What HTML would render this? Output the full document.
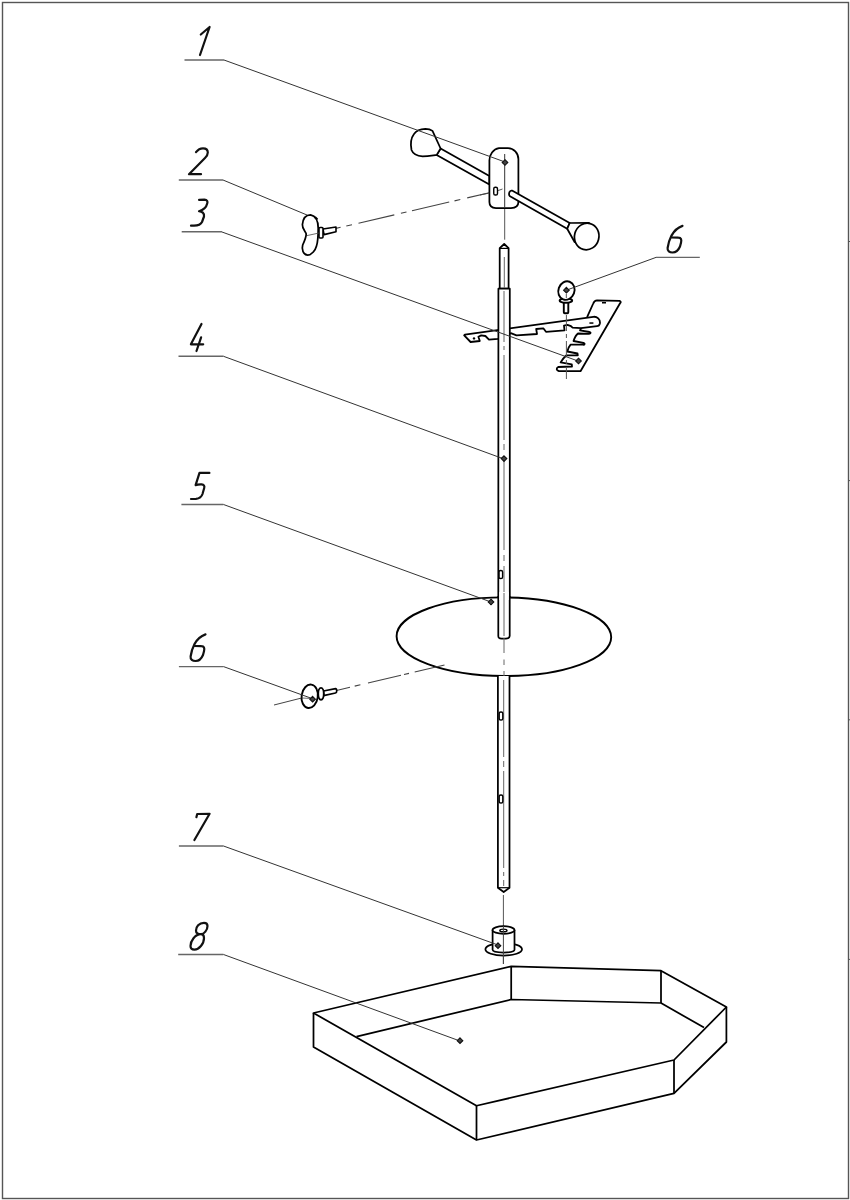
<!DOCTYPE html>
<html><head><meta charset="utf-8">
<style>
html,body{margin:0;padding:0;background:#fff;}
body{width:850px;height:1200px;overflow:hidden;font-family:"Liberation Sans",sans-serif;}
svg{display:block;}
</style></head>
<body>
<svg width="850" height="1200" viewBox="0 0 850 1200">
<rect x="0" y="0" width="850" height="1200" fill="#fff"/>
<!-- frame -->
<rect x="2.5" y="2.5" width="846" height="1196" fill="none" stroke="#555" stroke-width="1.4"/>
<path d="M848.5,241.5 L850,241.5 M848.5,480.6 L850,480.6 M848.5,719.8 L850,719.8 M848.5,959.4 L850,959.4" stroke="#555" stroke-width="1"/>

<!-- digits -->
<g fill="none" stroke="#111" stroke-width="2.2" stroke-linecap="round" stroke-linejoin="round">
  <path d="M200.8,34.5 L209.6,27 L200,55"/>
  <path d="M196,152.2 C198,149.5 200.5,148.3 203,148.3 C206,148.3 207.8,150 207.8,152.5 C207.8,154.5 206.5,156.5 205,158 L189,174.2 L201,174.2"/>
  <path d="M199.1,199.9 L204.5,199.6 C207,199.6 208,201.5 207.2,203.5 C206.5,206.5 203.5,210 199,211.2 C202,211.5 204.5,213 204,216.5 L202,222 C200.5,225 198,225.6 194,225.7 L191,225.7"/>
  <path d="M201.5,323.9 L190.9,344.3 L203.2,344.3 M201.1,337.3 L196.5,351"/>
  <path d="M209.4,472.9 L199.5,472.9 L195.6,485.1 C197,484.6 199,484.3 201.6,484.4 C204,484.6 204.8,486 204.2,488 L202.5,494 C201.5,497 199.5,498.5 196,498.8 L191,499"/>
  <path d="M205.5,634.4 C201,636 197,639.5 194.5,644.1 C192.5,648 191.2,652.5 190.6,656.5 C190.2,659.5 192.5,661 195.6,661 C199,661 201.5,658.5 203,655 L204,651.2 C204.8,648 204,646.2 201.5,646.2 L194.5,646"/>
  <path d="M196.4,817.2 L197.2,814 L209.6,813.8 L194.4,840"/>
  <path d="M204,922.8 C199,922.8 196,927 196,930.5 C196,933.5 199,934.2 201,934.2 C204,934.2 207.5,930 207.5,926 C207.5,923.5 206,922.8 204,922.8 Z M201,934.2 C195,934.2 190.5,941 190.5,946 C190.5,949 192.5,949.6 194.5,949.6 C199,949.6 204,944 204,938 C204,935 203,934.2 201,934.2 Z"/>
  <path transform="translate(477,-408.5)" d="M205.5,634.4 C201,636 197,639.5 194.5,644.1 C192.5,648 191.2,652.5 190.6,656.5 C190.2,659.5 192.5,661 195.6,661 C199,661 201.5,658.5 203,655 L204,651.2 C204.8,648 204,646.2 201.5,646.2 L194.5,646"/>
</g>

<!-- shelf lines -->
<g fill="none" stroke="#666" stroke-width="1.4">
  <path d="M184.5,60 L224,60"/>
  <path d="M178.8,180 L223,180"/>
  <path d="M181.7,231.7 L222,231.7"/>
  <path d="M178.5,356.3 L223.5,356.3"/>
  <path d="M181.4,504.5 L223.5,504.5"/>
  <path d="M178.9,666.6 L223.5,666.6"/>
  <path d="M178.9,846 L223.5,846"/>
  <path d="M178.2,954.5 L223.5,954.5"/>
  <path d="M656,257.4 L699.8,257.4"/>
</g>

<!-- axis / dashed lines (behind parts) -->
<g fill="none" stroke="#555" stroke-width="1">
  <path d="M504.7,154 L504.7,239.7"/>
  <path d="M503.4,895 L503.4,964"/>
  
</g>
<path d="M335.0,228.63 L340.6,227.33 M346.3,226.00 L352.0,224.68 M358.5,223.17 L394.3,214.84 M400.9,213.30 L406.5,212.00 M412.0,210.72 L449.2,202.07 M454.5,200.84 L460.3,199.49 M467.2,197.88 L489.4,192.72" stroke="#444" stroke-width="1.1" fill="none"/>
<path d="M274,705 L301.6,698" stroke="#444" stroke-width="1" fill="none"/>

<!-- PART 1: arm assembly -->
<g fill="#fff" stroke="#000" stroke-width="1.75" stroke-linejoin="round">
  <!-- left rod -->
  <path d="M440.6,148.5 L489.4,176 L489.4,184.4 L436.7,154.9 Z"/>
  <!-- left knob -->
  <path d="M425.4,128.8 C420,129 416,131 414,134 C411,138 410.5,145 411.5,150 C413,154 416,156 422.6,156.3 C428,156.3 432,155.5 436.7,154.9 L440.6,148.5 L432.5,130.9 C430,129 428,128.8 425.4,128.8 Z"/>
  <!-- block -->
  <path d="M489.4,161 A11,12.5 0 0 1 499,148.1 L508,148.1 A10.5,11 0 0 1 518.4,159 L518.4,202 C518.4,206 516,208 511,208 L496,208 C491.5,208 489.4,206 489.4,202 Z"/>
  <!-- right rod -->
  <path d="M512,190.6 L569.7,223 L567.2,228.8 L510,196.3 C508,194.5 509.5,190 512,190.6 Z"/>
  <!-- right knob cone -->
  <path d="M569.7,223 L589,222.8 L574.6,242 L567.2,228.8 Z"/>
  <ellipse cx="586.7" cy="236.5" rx="12.2" ry="13.4" transform="rotate(15 586.7 236.5)"/>
</g>
<path d="M504.7,154 L504.7,208" stroke="#333" stroke-width="1"/>
<rect x="493.75" y="187.2" width="3.75" height="7.8" rx="1.6" fill="none" stroke="#000" stroke-width="1.4"/>
<path d="M498,190.6 L502.5,189" stroke="#444" stroke-width="0.9" fill="none"/>
<path d="M480,195 L489.4,193" stroke="#444" stroke-width="0.9" fill="none"/>

<!-- PART 2: wing nut -->
<g fill="#fff" stroke="#000" stroke-width="1.75" stroke-linejoin="round">
  <path d="M310.5,214.8 C306,214.8 303,218 302.4,224.7 C302,229 306.2,232 306.2,234 C306.2,237 305,240 302.7,245 C301.5,249 303,255 307.6,255 C312,255 315.4,250 316.5,246 C318.2,241 318.2,234 318.2,228 C318.2,222 316,216 310.5,214.8 Z"/>
  <path d="M323,229 L336,227 L336,231.8 L324,234.6 Z" stroke-width="1.6"/>
  <rect x="319" y="227.5" width="4" height="10.5" rx="1" stroke-width="1.6"/>
</g>
<path d="M307,235.6 L319,233" stroke="#444" stroke-width="0.8" fill="none"/>
<path d="M315,217 L317.5,219.5" stroke="#000" stroke-width="1.8"/>

<!-- PART 3 bracket -->
<g fill="#fff" stroke="#000" stroke-width="1.8" stroke-linejoin="round">
  <!-- diagonal arm -->
  <path d="M597,300.4 L619.6,300.8 C621,301.2 621,302.5 620.2,303 L580.5,371.2 L558.8,371 C556.5,370.6 555.8,368.4 558.2,367 L572,366.5 L571.8,364.4 L560.6,362.4 C562,360 564,357.5 566.5,355.3 L577.8,355.3 L577.5,353.5 L567.3,351.5 C568,348.5 569,346.5 570.6,344.7 L583,344.7 C584.5,345 585.5,343.5 583.5,342.8 L573.5,341 C574.5,338 576,335 578,333.5 L588,333.8 C590.5,334 591.5,332.5 589.5,332 L580,330.3 L587.2,316.8 L593,304 C594,301.5 595,300.4 597,300.4 Z"/>
  <!-- horizontal arm -->
  <path d="M464.9,334.6 L593.3,316.8 C597,316.3 600.5,319.5 599.9,323.4 C599.5,325.5 598.5,326.2 597,326.2 L581,328.1 L572.6,327.6 L571,326.2 L567.4,324.8 L564,325.6 L564.5,330.4 L546,331.8 L543.3,328.3 L536.2,329 L537,334 L516.5,335.4 L510.8,333.2 L498,338.9 L489,339.6 L485.4,336 L481.2,335.4 L478.4,336.8 L479.8,341 L470.6,342 L464.2,335.4 Z"/>
</g>
<circle cx="474" cy="338.4" r="1.2" fill="#000"/>
<path d="M566.4,315 L566.4,379" stroke="#555" stroke-width="1" stroke-dasharray="16,3,4,3" fill="none"/>
<rect x="602" y="302" width="4" height="1.5" fill="#000"/>
<rect x="589.4" y="322.3" width="4" height="1.5" fill="#000"/>

<!-- PART 4 rod (upper) -->
<g fill="#fff" stroke="#000" stroke-width="1.75" stroke-linejoin="round">
  <path d="M499.7,288.7 L499.7,248.2 L504.2,244 L508.6,248.2 L508.6,288.7 Z"/>
  <path d="M498.4,288.7 L509.8,288.7 L509.8,636 C509.7,638 508,638.5 506,638.5 L501.5,638.5 C499,638.5 498.3,638 498.3,636 Z"/>
</g>
<path d="M499.7,248.4 L508.6,248.4" stroke="#000" stroke-width="1.2"/>
<path d="M504.3,257 L504.3,288 M504,291 L504,342 M504,346 L504,350 M504,355 L504,440 M504,444 L504,450 M504,456 L504,550 M504,555 L504,561 M504,566 L504,636" stroke="#666" stroke-width="1" fill="none"/>

<!-- PART 6 eye bolt -->
<g fill="#fff" stroke="#000" stroke-width="1.9">
  <rect x="563.8" y="301" width="4.5" height="12.2" rx="1"/>
  <ellipse cx="565.9" cy="300.6" rx="6.3" ry="2.2"/>
  <ellipse cx="566.4" cy="290.6" rx="8" ry="9.4" transform="rotate(20 566.4 290.6)"/>
</g>
<path d="M566.3,294 L566.3,298" stroke="#555" stroke-width="1"/>

<!-- PART 5 disc -->
<ellipse cx="503.9" cy="636.7" rx="107.3" ry="39.3" fill="#fff" stroke="#000" stroke-width="1.9" transform="rotate(0.3 503.9 636.7)"/>
<g fill="#fff" stroke="#000" stroke-width="1.75">
  <path d="M498.3,596 L498.3,636 C498.3,638 499,638.5 501.5,638.5 L506,638.5 C508.5,638.5 509.7,638 509.7,636 L509.7,596"/>
</g>
<rect x="499.3" y="592" width="9.4" height="8" fill="#fff" stroke="none"/>
<path d="M504,593 L504,636" stroke="#666" stroke-width="1"/>
<rect x="499" y="570.5" width="3.6" height="8" rx="1.6" fill="none" stroke="#000" stroke-width="1.4"/>
<path d="M504,638 L504,653 M504,659.5 L504,665 M504,671 L504,676" stroke="#666" stroke-width="1" fill="none"/>

<path d="M336.5,690.42 L350.0,687.24 M354.7,686.14 L360.4,684.79 M368.0,683.01 L401.0,675.24 M404.0,674.53 L409.0,673.36 M414.7,672.02 L444.5,665.01" stroke="#444" stroke-width="1.1" fill="none"/>
<!-- lower rod -->
<g fill="#fff" stroke="#000" stroke-width="1.75" stroke-linejoin="round">
  <path d="M497.9,676 L497.9,887.7 L503.7,892 L509.5,887.7 L509.5,676"/>
</g>
<path d="M503.7,680 L503.7,757 M503.7,761 L503.7,767 M503.7,771 L503.7,868 M503.7,872 L503.7,876 M503.7,880 L503.7,886" stroke="#666" stroke-width="1" fill="none"/>
<path d="M497.9,887.7 L509.5,887.7" stroke="#000" stroke-width="1.2"/>
<rect x="499.2" y="712" width="3.6" height="8" rx="1.6" fill="none" stroke="#000" stroke-width="1.4"/>
<rect x="499.2" y="795" width="3.6" height="8" rx="1.6" fill="none" stroke="#000" stroke-width="1.4"/>

<!-- PART 6 lower knob -->
<g fill="#fff" stroke="#000" stroke-width="1.9">
  <path d="M323.5,691 L335.5,688.6 C337,688.5 337.2,692.8 335.5,693 L323.5,695.6 Z" stroke-width="1.7"/>
  <ellipse cx="321" cy="693.8" rx="2.8" ry="5.9"/>
  <ellipse cx="309.7" cy="696.3" rx="8.1" ry="11.8" transform="rotate(8 309.7 696.3)"/>
</g>
<path d="M301.6,698 L312,698.5" stroke="#444" stroke-width="0.8"/>

<!-- PART 7 bushing -->
<g fill="#fff" stroke="#000" stroke-width="1.75">
  <ellipse cx="503.7" cy="949.3" rx="18.3" ry="6.3"/>
  <path d="M492.6,930 L492.6,949.8 C492.6,952 498,952.5 503.5,952.5 C509,952.5 514.5,952 514.5,949.8 L514.5,930"/>
  <ellipse cx="503.5" cy="930" rx="11" ry="3.8"/>
  <ellipse cx="503.4" cy="930.4" rx="3.6" ry="1.3" stroke-width="1.4"/>
</g>
<path d="M503.4,926 L503.4,964" stroke="#444" stroke-width="1"/>

<!-- PART 8 base tray -->
<g fill="none" stroke="#000" stroke-width="1.75" stroke-linejoin="round">
  <path d="M313.5,1013 L511.2,966.4 L661,970.7 L726.4,1007 L674,1060 L476.5,1105.75 Z"/>
  <path d="M313.5,1013 L313.5,1047 L476.5,1140 L674,1093.3 L726.4,1042 L726.4,1007"/>
  <path d="M476.5,1105.75 L476.5,1140 M674,1060 L674,1093"/>
  <path d="M356.5,1036.6 L511.2,999.5 L661,1003 L704,1027.6"/>
  <path d="M511.2,966.4 L511.2,999.5 M661,970.7 L661,1003"/>
</g>

<!-- leaders (on top) -->
<g fill="none" stroke="#333" stroke-width="1">
  <path d="M224,60 L505,162"/>
  <path d="M223,180 L307,215"/>
  <path d="M222,232 L578,361"/>
  <path d="M223.5,356.3 L504,459"/>
  <path d="M223.5,504.5 L491,602"/>
  <path d="M223.5,666.6 L312,698.5"/>
  <path d="M223.5,846 L498,945"/>
  <path d="M223.5,954.5 L460,1041"/>
  <path d="M656,257.4 L566.4,290.2"/>
</g>
<!-- leader end marks -->
<g fill="#444" stroke="#111" stroke-width="1.1">
  <path d="M505.0,159.7 L507.8,162.5 L505.0,165.3 L502.2,162.5 Z"/>
  <path d="M504.0,455.8 L506.8,458.6 L504.0,461.4 L501.2,458.6 Z"/>
  <path d="M312.6,696.4 L315.4,699.2 L312.6,702.0 L309.8,699.2 Z"/>
  <path d="M491.0,599.2 L493.8,602.0 L491.0,604.8 L488.2,602.0 Z"/>
  <path d="M460.0,1037.9 L462.8,1040.7 L460.0,1043.5 L457.2,1040.7 Z"/>
  <path d="M498.0,942.9 L500.8,945.7 L498.0,948.5 L495.2,945.7 Z"/>
  <path d="M578.5,358.2 L581.3,361.0 L578.5,363.8 L575.7,361.0 Z"/>
  <path d="M566.4,287.4 L569.2,290.2 L566.4,293.0 L563.6,290.2 Z"/>
</g>
</svg>
</body></html>
